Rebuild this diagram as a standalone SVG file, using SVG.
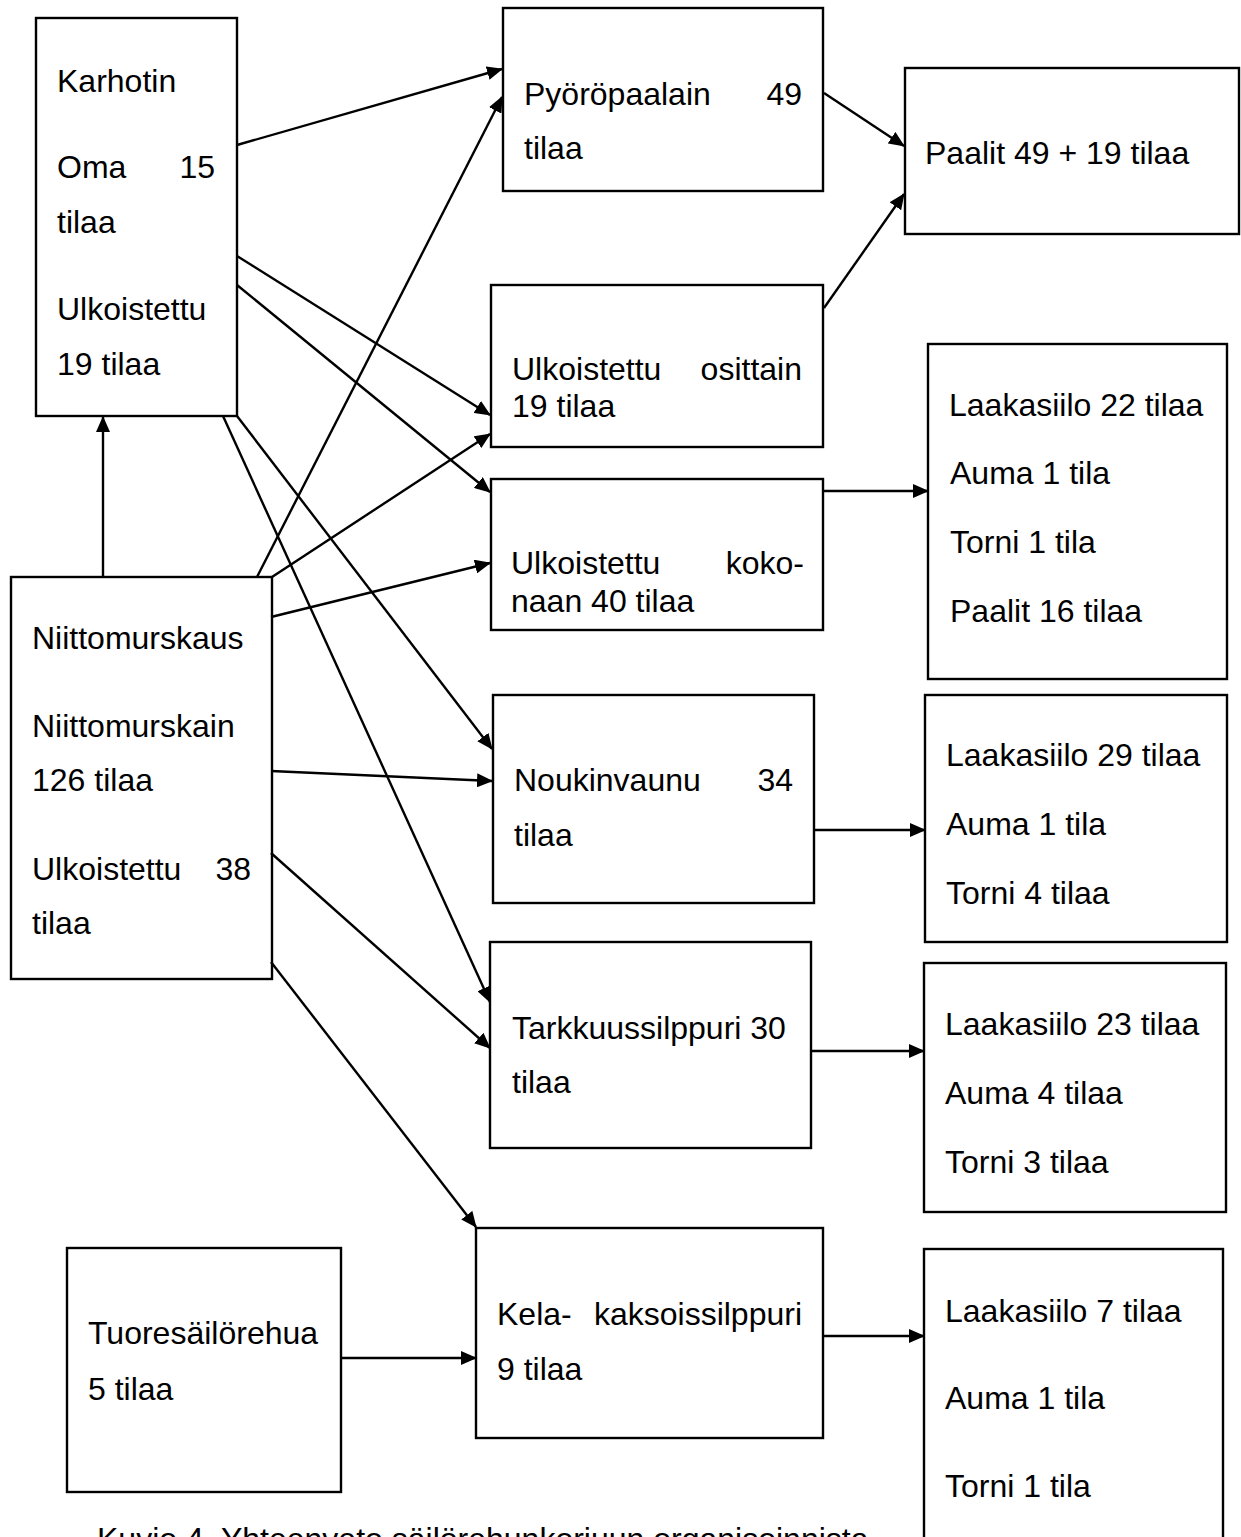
<svg xmlns="http://www.w3.org/2000/svg" width="1241" height="1537" viewBox="0 0 1241 1537">
<style>
  .box { fill: #ffffff; stroke: #000000; stroke-width: 2.4; }
  .t { font-family: "Liberation Sans", Arial, sans-serif; font-size: 32px; fill: #000000; }
  .e { text-anchor: end; }
  .c { stroke: #000000; stroke-width: 2.4; fill: none; marker-end: url(#ah); }
</style>
<defs>
  <marker id="ah" markerUnits="userSpaceOnUse" markerWidth="16" markerHeight="14" refX="15" refY="7" orient="auto">
    <path d="M0,0 L16,7 L0,14 z" fill="#000000"/>
  </marker>
</defs>
<rect width="1241" height="1537" fill="#ffffff"/>

<g id="karhotin">
  <rect class="box" x="36" y="18" width="201" height="398"/>
  <text class="t" x="57" y="92">Karhotin</text>
  <text class="t" x="57" y="178">Oma</text>
  <text class="t e" x="215" y="178">15</text>
  <text class="t" x="57" y="233">tilaa</text>
  <text class="t" x="57" y="320">Ulkoistettu</text>
  <text class="t" x="57" y="375">19 tilaa</text>
</g>

<g id="niittomurskaus">
  <rect class="box" x="11" y="577" width="261" height="402"/>
  <text class="t" x="32" y="649">Niittomurskaus</text>
  <text class="t" x="32" y="737">Niittomurskain</text>
  <text class="t" x="32" y="791">126 tilaa</text>
  <text class="t" x="32" y="880">Ulkoistettu</text>
  <text class="t e" x="251" y="880">38</text>
  <text class="t" x="32" y="934">tilaa</text>
</g>

<g id="tuoresailorehua">
  <rect class="box" x="67" y="1248" width="274" height="244"/>
  <text class="t" x="88" y="1344">Tuoresäilörehua</text>
  <text class="t" x="88" y="1400">5 tilaa</text>
</g>

<g id="pyoropaalain">
  <rect class="box" x="503" y="8" width="320" height="183"/>
  <text class="t" x="524" y="105">Pyöröpaalain</text>
  <text class="t e" x="802" y="105">49</text>
  <text class="t" x="524" y="159">tilaa</text>
</g>

<g id="ulkoistettu-osittain">
  <rect class="box" x="491" y="285" width="332" height="162"/>
  <text class="t" x="512" y="380">Ulkoistettu</text>
  <text class="t e" x="802" y="380">osittain</text>
  <text class="t" x="512" y="417">19 tilaa</text>
</g>

<g id="ulkoistettu-kokonaan">
  <rect class="box" x="491" y="479" width="332" height="151"/>
  <text class="t" x="511" y="574">Ulkoistettu</text>
  <text class="t e" x="804" y="574">koko-</text>
  <text class="t" x="511" y="612">naan 40 tilaa</text>
</g>

<g id="noukinvaunu">
  <rect class="box" x="493" y="695" width="321" height="208"/>
  <text class="t" x="514" y="791">Noukinvaunu</text>
  <text class="t e" x="793" y="791">34</text>
  <text class="t" x="514" y="846">tilaa</text>
</g>

<g id="tarkkuussilppuri">
  <rect class="box" x="490" y="942" width="321" height="206"/>
  <text class="t" x="512" y="1039">Tarkkuussilppuri 30</text>
  <text class="t" x="512" y="1093">tilaa</text>
</g>

<g id="kela-kaksoissilppuri">
  <rect class="box" x="476" y="1228" width="347" height="210"/>
  <text class="t" x="497" y="1325">Kela-</text>
  <text class="t e" x="802" y="1325">kaksoissilppuri</text>
  <text class="t" x="497" y="1380">9 tilaa</text>
</g>

<g id="paalit">
  <rect class="box" x="905" y="68" width="334" height="166"/>
  <text class="t" x="925" y="164">Paalit 49 + 19 tilaa</text>
</g>

<g id="varasto-1">
  <rect class="box" x="928" y="344" width="299" height="335"/>
  <text class="t" x="949" y="416">Laakasiilo 22 tilaa</text>
  <text class="t" x="950" y="484">Auma 1 tila</text>
  <text class="t" x="950" y="553">Torni 1 tila</text>
  <text class="t" x="950" y="622">Paalit 16 tilaa</text>
</g>

<g id="varasto-2">
  <rect class="box" x="925" y="695" width="302" height="247"/>
  <text class="t" x="946" y="766">Laakasiilo 29 tilaa</text>
  <text class="t" x="946" y="835">Auma 1 tila</text>
  <text class="t" x="946" y="904">Torni 4 tilaa</text>
</g>

<g id="varasto-3">
  <rect class="box" x="924" y="963" width="302" height="249"/>
  <text class="t" x="945" y="1035">Laakasiilo 23 tilaa</text>
  <text class="t" x="945" y="1104">Auma 4 tilaa</text>
  <text class="t" x="945" y="1173">Torni 3 tilaa</text>
</g>

<g id="varasto-4">
  <rect class="box" x="924" y="1249" width="299" height="320"/>
  <text class="t" x="945" y="1322">Laakasiilo 7 tilaa</text>
  <text class="t" x="945" y="1409">Auma 1 tila</text>
  <text class="t" x="945" y="1497">Torni 1 tila</text>
</g>

<g id="connectors">
  <line class="c" x1="237" y1="145" x2="502" y2="69"/>
  <line class="c" x1="257" y1="577" x2="502" y2="97"/>
  <line class="c" x1="237" y1="256" x2="490" y2="415"/>
  <line class="c" x1="237" y1="285" x2="490" y2="492"/>
  <line class="c" x1="272" y1="577" x2="490" y2="434"/>
  <line class="c" x1="271" y1="617" x2="490" y2="563"/>
  <line class="c" x1="223" y1="416" x2="490" y2="1002"/>
  <line class="c" x1="237" y1="416" x2="492" y2="749"/>
  <line class="c" x1="271" y1="771" x2="492" y2="781"/>
  <line class="c" x1="271" y1="853" x2="490" y2="1048"/>
  <line class="c" x1="271" y1="962" x2="476" y2="1227"/>
  <line class="c" x1="103" y1="577" x2="103" y2="417"/>
  <line class="c" x1="824" y1="93" x2="904" y2="146"/>
  <line class="c" x1="824" y1="308" x2="904" y2="194"/>
  <line class="c" x1="823" y1="491" x2="928" y2="491"/>
  <line class="c" x1="814" y1="830" x2="925" y2="830"/>
  <line class="c" x1="811" y1="1051" x2="924" y2="1051"/>
  <line class="c" x1="823" y1="1336" x2="924" y2="1336"/>
  <line class="c" x1="341" y1="1358" x2="476" y2="1358"/>
</g>

<text class="t" x="97" y="1550">Kuvio 4. Yhteenveto säilörehunkorjuun organisoinnista</text>
</svg>
